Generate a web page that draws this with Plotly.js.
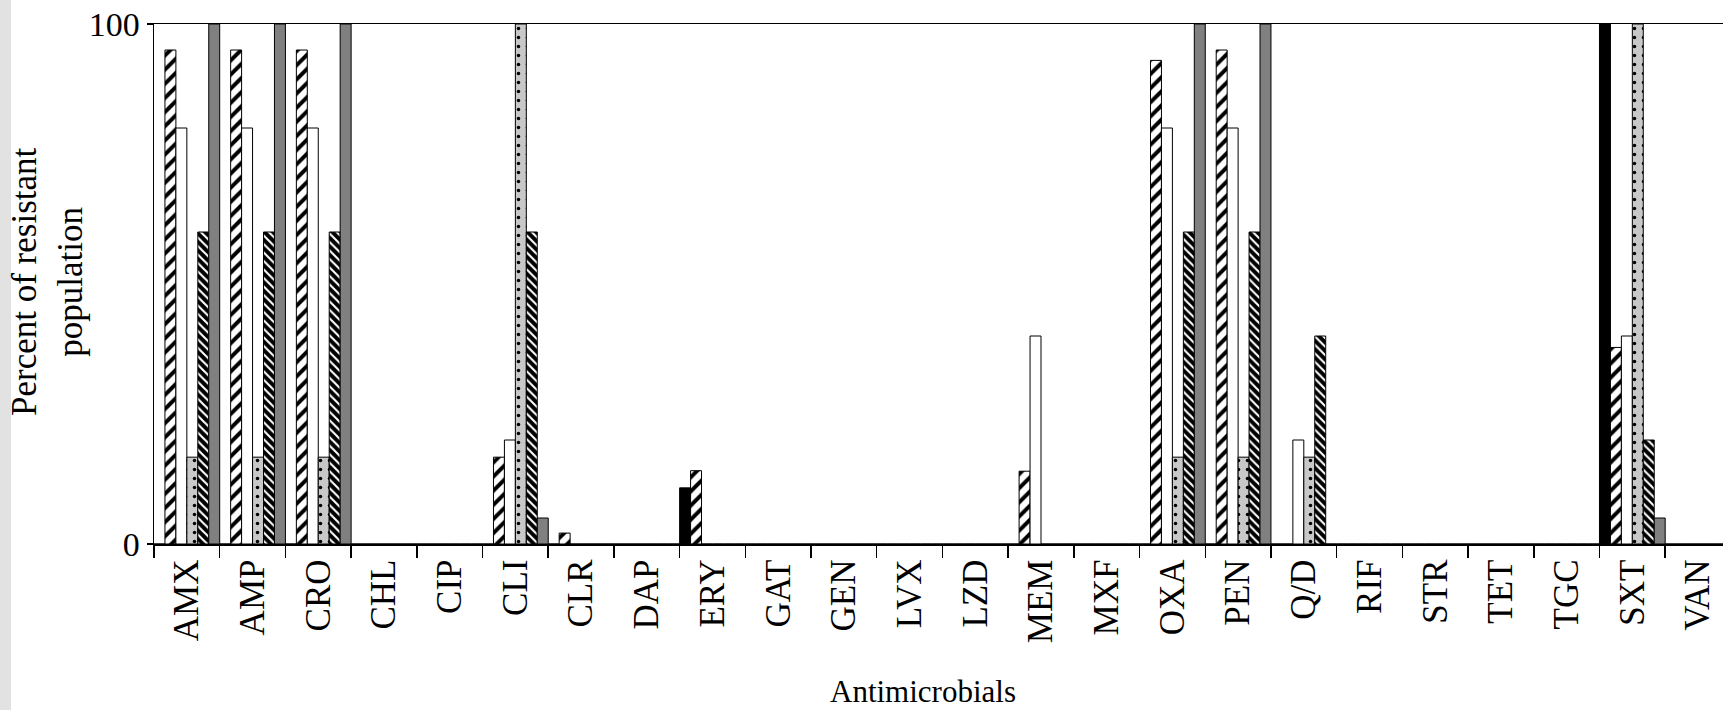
<!DOCTYPE html>
<html>
<head>
<meta charset="utf-8">
<script src="https://cdn.plot.ly/plotly-3.0.1.min.js"></script>
<style>
  html, body { margin: 0; padding: 0; background: #ffffff; }
  #chart { width: 1723px; height: 710px; }
</style>
</head>
<body>
<div id="chart"></div>
<script>
// Antimicrobial categories (x axis)
const categories = ['AMX','AMP','CRO','CHL','CIP','CLI','CLR','DAP','ERY','GAT','GEN','LVX',
                    'LZD','MEM','MXF','OXA','PEN','Q/D','RIF','STR','TET','TGC','SXT','VAN'];

// Percent of resistant population, one array per series (bar order inside each group)
const seriesSolidBlack = [0,0,0,0,0,0,0,0,10.8,0,0,0,0,0,0,0,0,0,0,0,0,0,100,0];
const seriesHatched    = [95,95,95,0,0,16.7,2.1,0,14.1,0,0,0,0,14,0,93,95,0,0,0,0,0,37.8,0];
const seriesWhite      = [80,80,80,0,0,20,0,0,0,0,0,0,0,40,0,80,80,20,0,0,0,0,40,0];
const seriesDotted     = [16.7,16.7,16.7,0,0,100,0,0,0,0,0,0,0,0,0,16.7,16.7,16.7,0,0,0,0,100,0];
const seriesChecked    = [60,60,60,0,0,60,0,0,0,0,0,0,0,0,0,60,60,40,0,0,0,0,20,0];
const seriesDarkGray   = [100,100,100,0,0,5,0,0,0,0,0,0,0,0,0,100,100,0,0,0,0,0,5,0];

const yTickVals = [0, 100];
const yTickText = ['0', '100'];
const xTitle = 'Antimicrobials';
const yTitle = 'Percent of resistant<br>population';

const FONT = 'Liberation Serif, Times New Roman, serif';
const outline = {color: '#000000', width: 1};

const traces = [
  {name: 'Series 1', y: seriesSolidBlack,
   marker: {color: '#000000', line: outline}},
  {name: 'Series 2', y: seriesHatched,
   marker: {color: '#ffffff', line: outline,
            pattern: {shape: '/', fgcolor: '#000000', bgcolor: '#ffffff', size: 10, solidity: 0.4}}},
  {name: 'Series 3', y: seriesWhite,
   marker: {color: '#ffffff', line: outline}},
  {name: 'Series 4', y: seriesDotted,
   marker: {color: '#c8c8c8', line: outline,
            pattern: {shape: '.', fgcolor: '#000000', bgcolor: '#c8c8c8', size: 9, solidity: 0.12}}},
  {name: 'Series 5', y: seriesChecked,
   marker: {color: '#000000', line: outline,
            pattern: {shape: '\\', fgcolor: '#ffffff', bgcolor: '#000000', size: 6, solidity: 0.35}}},
  {name: 'Series 6', y: seriesDarkGray,
   marker: {color: '#808080', line: outline}}
].map(t => Object.assign({type: 'bar', x: categories, hoverinfo: 'x+y'}, t));

const plotLeft = 154, plotRight = 1723, plotTop = 24, plotBottom = 544, nVisible = 23.88;
const pw = plotRight - plotLeft, ph = plotBottom - plotTop;

const layout = {
  width: 1723, height: 710,
  margin: {l: plotLeft, r: 0, t: plotTop, b: 710 - plotBottom, pad: 0},
  paper_bgcolor: '#ffffff', plot_bgcolor: '#ffffff',
  barmode: 'group', bargap: 0, bargroupgap: 0,
  showlegend: false,
  font: {family: FONT, color: '#000000', size: 34},
  xaxis: {
    type: 'category',
    range: [-0.5, nVisible - 0.5],
    showline: true, linecolor: '#000000', linewidth: 1.5, mirror: true,
    showgrid: false, zeroline: false,
    ticks: 'outside', tickson: 'boundaries', ticklen: 12, tickwidth: 1.5, tickcolor: '#000000',
    tickangle: -90,
    tickfont: {family: FONT, size: 35, color: '#000000'},
    automargin: false, fixedrange: true
  },
  yaxis: {
    range: [0, 100],
    tickvals: yTickVals, ticktext: yTickText,
    showline: true, linecolor: '#000000', linewidth: 1.5,
    showgrid: false, zeroline: false,
    ticks: 'outside', ticklen: 6, tickwidth: 1.5, tickcolor: '#000000',
    tickfont: {family: FONT, size: 34, color: '#000000'},
    automargin: false, fixedrange: true
  },
  annotations: [
    {text: xTitle, xref: 'paper', yref: 'paper', showarrow: false,
     x: (923 - plotLeft) / pw, y: (plotBottom - 692) / ph, xanchor: 'center', yanchor: 'middle',
     font: {family: FONT, size: 31, color: '#000000'}},
    {text: yTitle, xref: 'paper', yref: 'paper', showarrow: false, textangle: -90,
     x: (47 - plotLeft) / pw, y: (plotBottom - 281) / ph, xanchor: 'center', yanchor: 'middle',
     font: {family: FONT, size: 35, color: '#000000'}}
  ],
  shapes: [{
    type: 'rect', xref: 'paper', yref: 'paper',
    x0: -plotLeft / pw, x1: (11 - plotLeft) / pw,
    y0: -(710 - plotBottom) / ph, y1: 1 + plotTop / ph,
    fillcolor: '#e2e2e2', line: {width: 0}, layer: 'below'
  }]
};

Plotly.newPlot('chart', traces, layout, {displayModeBar: false, staticPlot: true});
</script>
</body>
</html>
